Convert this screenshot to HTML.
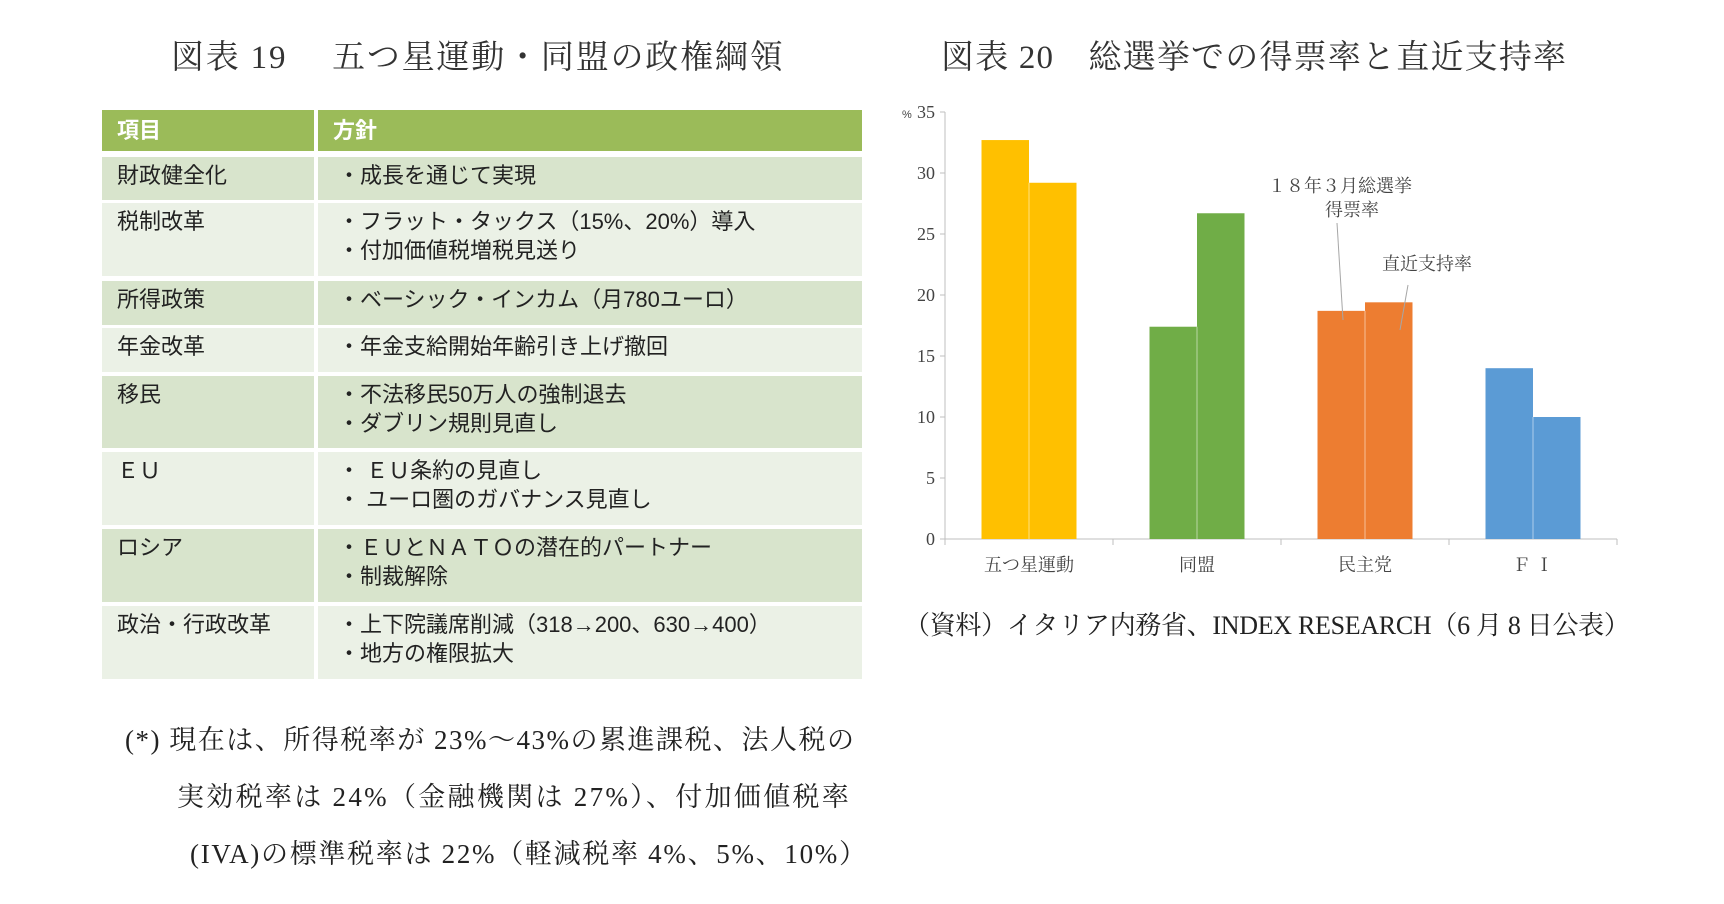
<!DOCTYPE html>
<html><head><meta charset="utf-8">
<style>
body{margin:0;width:1724px;height:904px;background:#fff;position:relative;overflow:hidden;font-family:"Liberation Sans","Noto Sans CJK JP",sans-serif;color:#222}
.abs{position:absolute;white-space:nowrap}
.serif{font-family:"Liberation Serif","Noto Serif CJK SC",serif}
.title{font-size:33px;top:31px;color:#333}
.cell{position:absolute;box-sizing:border-box;padding:4px 0 0 15px;font-size:22px;line-height:29px;color:#222}
.note{font-size:27px;color:#222}
</style></head><body>
<div class="abs serif title" style="left:171px;letter-spacing:1.8px">図表 19　 五つ星運動・同盟の政権綱領</div>
<div class="abs serif title" style="left:941px;letter-spacing:1.2px">図表 20　総選挙での得票率と直近支持率</div>

<div id="table"></div>

<div class="abs serif note" style="left:125px;top:718px;letter-spacing:1.5px">(*) 現在は、所得税率が 23%～43%の累進課税、法人税の</div>
<div class="abs serif note" style="left:177px;top:775px;letter-spacing:2.3px">実効税率は 24%（金融機関は 27%）、付加価値税率</div>
<div class="abs serif note" style="left:190px;top:832px;letter-spacing:1.7px">(IVA)の標準税率は 22%（軽減税率 4%、5%、10%）</div>

<svg id="chart" class="abs" style="left:0;top:0" width="1724" height="904"></svg>
<div class="abs serif" style="left:904px;top:605px;font-size:26px;letter-spacing:-0.3px">（資料）イタリア内務省、INDEX RESEARCH（6 月 8 日公表）</div>

<script>
// table
const rowsY=[[157,200],[203,276],[281,325],[328,372],[376,448],[452,525],[529,602],[606,679]];
const items=["財政健全化","税制改革","所得政策","年金改革","移民","ＥＵ","ロシア","政治・行政改革"];
const policies=[["・成長を通じて実現"],["・フラット・タックス（15%、20%）導入","・付加価値税増税見送り"],["・ベーシック・インカム（月780ユーロ）"],["・年金支給開始年齢引き上げ撤回"],["・不法移民50万人の強制退去","・ダブリン規則見直し"],["・ ＥＵ条約の見直し","・ ユーロ圏のガバナンス見直し"],["・ＥＵとＮＡＴＯの潜在的パートナー","・制裁解除"],["・上下院議席削減（318→200、630→400）","・地方の権限拡大"]];
const T=document.getElementById('table');
function cell(x,y,w,h,bg,html,name,color,bold){
  const d=document.createElement('div');d.className='cell';
  d.style.cssText+=`left:${x}px;top:${y}px;width:${w}px;height:${h}px;background:${bg};`;
  if(color)d.style.color=color; if(bold){d.style.fontWeight='bold';d.style.paddingTop='6px';}
  d.innerHTML=html;
  
  
  T.appendChild(d);
}
cell(102,110,212,41,'#9bbb59','項目','header-item','#fff',true);
cell(318,110,544,41,'#9bbb59','方針','header-policy','#fff',true);
rowsY.forEach((r,i)=>{
  const bg=i%2===0?'#d8e4cc':'#ebf1e6';
  cell(102,r[0],212,r[1]-r[0],bg,items[i],'item-cell');
  cell(318,r[0],544,r[1]-r[0],bg,policies[i].join('<br>'),'policy-cell');
  T.lastChild.style.paddingLeft='20px';
});

// chart
const categories=["五つ星運動","同盟","民主党","Ｆ Ｉ"];
const electionShare=[32.7,17.4,18.7,14.0];
const recentSupport=[29.2,26.7,19.4,10.0];
const colors=["#ffc000","#70ad47","#ed7d31","#5b9bd5"];
const yTicks=[0,5,10,15,20,25,30,35];
const NS="http://www.w3.org/2000/svg";
const S=document.getElementById('chart');
const x0=945,x1=1617,y0=539,yTop=112,yMax=35;
const bw=(x1-x0)/categories.length;
const Y=v=>y0-(v/yMax)*(y0-yTop);
function el(tag,attrs,txt){const e=document.createElementNS(NS,tag);for(const k in attrs)e.setAttribute(k,attrs[k]);if(txt!==undefined)e.textContent=txt;S.appendChild(e);return e;}
let e;
e=el('line',{x1:x0,y1:yTop,x2:x0,y2:y0,stroke:'#bfbfbf'});


e=el('line',{x1:x0,y1:y0,x2:x1,y2:y0,stroke:'#bfbfbf'});


yTicks.forEach(t=>{
  e=el('line',{x1:x0-5,y1:Y(t),x2:x0,y2:Y(t),stroke:'#bfbfbf'});
  
  
  e=el('text',{x:x0-10,y:Y(t)+6,'text-anchor':'end','font-size':18,fill:'#444','font-family':'"Liberation Serif",serif'},String(t));
  
  
});
e=el('text',{x:902,y:Y(35)+6,'font-size':11,fill:'#444'},'%');


for(let i=0;i<=categories.length;i++){
  e=el('line',{x1:x0+i*bw,y1:y0,x2:x0+i*bw,y2:y0+6,stroke:'#bfbfbf'});
  
  
}
const w=47.5;
categories.forEach((c,i)=>{
  const cx=x0+bw*(i+0.5);
  e=el('rect',{x:cx-w,y:Y(electionShare[i]),width:w,height:y0-Y(electionShare[i]),fill:colors[i]});
  
  
  e=el('rect',{x:cx,y:Y(recentSupport[i]),width:w,height:y0-Y(recentSupport[i]),fill:colors[i]});
  
  
  e=el('line',{x1:cx,y1:Math.max(Y(electionShare[i]),Y(recentSupport[i])),x2:cx,y2:y0,stroke:'rgba(255,255,255,0.5)','stroke-width':1});
  
  
  e=el('text',{x:cx,y:571,'text-anchor':'middle','font-size':18,fill:'#444','font-family':'"Liberation Serif","Noto Serif CJK SC",serif'},c);
  
  
});
e=el('text',{x:1340,y:192,'text-anchor':'middle','font-size':18,fill:'#444','font-family':'"Liberation Serif","Noto Serif CJK SC",serif'},'１８年３月総選挙');


e=el('text',{x:1352,y:216,'text-anchor':'middle','font-size':18,fill:'#444','font-family':'"Liberation Serif","Noto Serif CJK SC",serif'},'得票率');


e=el('text',{x:1427,y:270,'text-anchor':'middle','font-size':18,fill:'#444','font-family':'"Liberation Serif","Noto Serif CJK SC",serif'},'直近支持率');


e=el('line',{x1:1337,y1:223,x2:1343,y2:320,stroke:'#a6a6a6'});


e=el('line',{x1:1408,y1:285,x2:1400,y2:330,stroke:'#a6a6a6'});


</script>
</body></html>
